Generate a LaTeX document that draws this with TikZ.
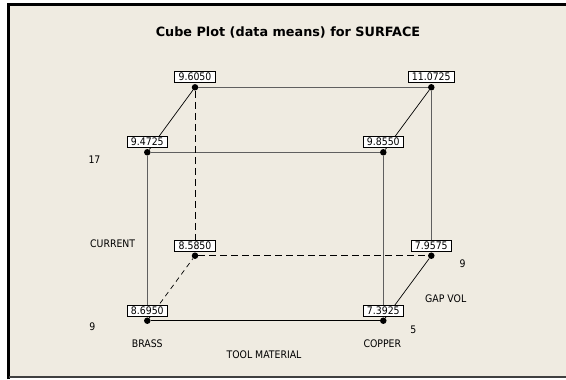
\documentclass[tikz,border=0pt]{standalone}
\usepackage{fontspec}
\newfontfamily\plotfont{DejaVu Sans Condensed}
\newfontfamily\headfont{DejaVu Sans}
\usetikzlibrary{positioning}
\definecolor{panel}{RGB}{239,235,225}
\definecolor{edge}{RGB}{95,95,95}
\tikzset{
  dot/.style = {circle, fill=black, inner sep=0pt, minimum size=6.5bp},
  val/.style = {draw=black, fill=white, line width=0.7bp, inner xsep=4bp,
    inner ysep=1.7bp, text height=7.6bp, text depth=0pt,
    font=\plotfont\fontsize{10.4bp}{12bp}\selectfont},% boxed mean at a corner
  lbl/.style = {inner sep=0pt, font=\plotfont\fontsize{10.4bp}{12bp}\selectfont},
  rim/.style = {edge, line width=1.5bp},
  hidden/.style = {black, line width=0.9bp, dash pattern=on 7bp off 4bp}
}

\begin{document}
\begin{tikzpicture}[x=1bp,y=-1bp]
\useasboundingbox (0,0) rectangle (566,379);
% panel and frame
\fill[white] (0,0) rectangle (566,379);
\fill[panel] (8.5,4.5) rectangle (566,377);
\draw[black, line width=2.5bp] (8.5,379) -- (8.5,4.3) -- (566,4.3);
\draw[black!75, line width=1.6bp] (8.5,377.2) -- (566,377.2);

\node[font=\headfont\bfseries\fontsize{12.8bp}{15bp}\selectfont] (title) at (288,32)
  {Cube Plot (data means) for SURFACE};

% corners: front face (gap 5), back face (gap 9)
\node[dot] (fbl) at (147.3,320.7) {};
\node[dot] (fbr) at (383.3,320.7) {};
\node[dot] (ftl) at (147.3,152.3) {};
\node[dot] (ftr) at (383.3,152.3) {};
\node[dot] (bbl) at (195,255.7) {};
\node[dot] (bbr) at (431.3,255.7) {};
\node[dot] (btl) at (195,87.3) {};
\node[dot] (btr) at (431.3,87.3) {};

% edges
\draw[rim] (ftl) -- (ftr) -- (fbr);
\draw[rim] (ftl) -- (fbl);
\draw[black, line width=1.2bp] (fbl) -- (fbr);
\draw[rim] (btl) -- (btr) -- (bbr);
\draw[hidden] (btl) -- (bbl) -- (bbr);
\draw[black, line width=0.7bp] (ftl) -- (btl);
\draw[black, line width=0.7bp] (ftr) -- (btr);
\draw[black, line width=0.7bp] (fbr) -- (bbr);
\draw[hidden, line width=0.7bp, dash pattern=on 5bp off 4bp] (fbl) -- (bbl);

% means
\node[val, above=1bp of btl] (m1) {9.6050};
\node[val, above=1bp of btr] (m2) {11.0725};
\node[val, above=1bp of ftl] (m3) {9.4725};
\node[val, above=1bp of ftr] (m4) {9.8550};
\node[val, above=1bp of bbl] (m5) {8.5850};
\node[val, above=1bp of bbr] (m6) {7.9575};
\node[val, above=1bp of fbl] (m7) {8.6950};
\node[val, above=1bp of fbr] (m8) {7.3925};

% factor names and levels
\node[lbl] (cur) at (112.7,243.3) {CURRENT};
\node[lbl] (curhi) at (94.5,159.5) {17};
\node[lbl] (curlo) at (92.3,326.7) {9};
\node[lbl] (brass) at (147.3,343.3) {BRASS};
\node[lbl] (copper) at (382.3,343.3) {COPPER};
\node[lbl] (tool) at (264,355) {TOOL MATERIAL};
\node[lbl] (gap) at (445.7,298.3) {GAP VOL};
\node[lbl] (gaplo) at (413.3,330) {5};
\node[lbl] (gaphi) at (462.7,264) {9};
\end{tikzpicture}
\end{document}
